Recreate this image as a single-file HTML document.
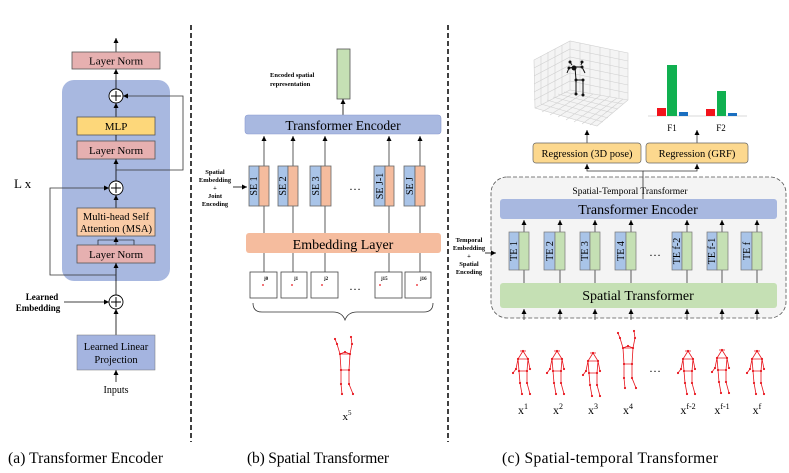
<!DOCTYPE html>
<html><head><meta charset="utf-8"><style>
html,body{margin:0;padding:0;background:#fff;}
svg{display:block;font-family:"Liberation Serif",serif;}
</style></head><body>
<svg width="789" height="473" viewBox="0 0 789 473" xmlns="http://www.w3.org/2000/svg">
<defs>
<marker id="ar" markerWidth="6" markerHeight="6" refX="5" refY="3" orient="auto" markerUnits="userSpaceOnUse"><path d="M0,0.5 L5,3 L0,5.5 z" fill="#000"/></marker>
<g id="sk" stroke="#e8141c" stroke-width="0.8" fill="none">
<path d="M0,-30 L-5,-22 L-7,-12 L-10,-8 M0,-30 L5,-22 L7,-12 M-5,-22 L5,-22 M-5,-22 L-4,-10 L4,-10 L5,-22 M-4,-10 L-3,2 L-1,13 M4,-10 L4,2 L7,13 M-3,-30 L3,-30"/>
<g fill="#e8141c" stroke="none"><circle cx="0" cy="-30" r="1.1"/><circle cx="-5" cy="-22" r="1.1"/><circle cx="5" cy="-22" r="1.1"/><circle cx="-7" cy="-12" r="1.1"/><circle cx="7" cy="-12" r="1.1"/><circle cx="-10" cy="-8" r="1.1"/><circle cx="-4" cy="-10" r="1.1"/><circle cx="4" cy="-10" r="1.1"/><circle cx="-3" cy="2" r="1.1"/><circle cx="4" cy="2" r="1.1"/><circle cx="-1" cy="13" r="1.1"/><circle cx="7" cy="13" r="1.1"/></g>
</g>
<g id="skup" stroke="#e8141c" stroke-width="0.8" fill="none">
<path d="M0,-30 L-5,-28 L-8,-38 L-10,-43 M0,-30 L5,-28 L7,-38 L6,-45 M-5,-28 L5,-28 M-5,-28 L-4,-12 L4,-12 L5,-28 M-4,-12 L-4,2 L-3,12 M4,-12 L4,2 L8,12"/>
<g fill="#e8141c" stroke="none"><circle cx="0" cy="-30" r="1.1"/><circle cx="-5" cy="-28" r="1.1"/><circle cx="5" cy="-28" r="1.1"/><circle cx="-8" cy="-38" r="1.1"/><circle cx="7" cy="-38" r="1.1"/><circle cx="-10" cy="-43" r="1.1"/><circle cx="6" cy="-45" r="1.1"/><circle cx="-4" cy="-12" r="1.1"/><circle cx="4" cy="-12" r="1.1"/><circle cx="-4" cy="2" r="1.1"/><circle cx="4" cy="2" r="1.1"/><circle cx="-3" cy="12" r="1.1"/><circle cx="8" cy="12" r="1.1"/></g>
</g>
</defs>

<!-- Panel (a) -->
<line x1="116" y1="52" x2="116" y2="38" stroke="#000" stroke-width="0.8" marker-end="url(#ar)"/>
<rect x="72" y="52" width="88" height="17" fill="#e6b0b0" stroke="#555" stroke-width="0.8"/>
<text x="116" y="64.5" font-size="11" text-anchor="middle">Layer Norm</text>
<rect x="62" y="80" width="108" height="201" rx="12" fill="#a8b8e0"/>
<line x1="116" y1="89" x2="116" y2="69" stroke="#000" stroke-width="0.8" marker-end="url(#ar)"/>
<line x1="116" y1="117" x2="116" y2="103" stroke="#000" stroke-width="0.8" marker-end="url(#ar)"/>
<rect x="77" y="117" width="78" height="18" fill="#fdd77a" stroke="#555" stroke-width="0.8"/>
<text x="116" y="130" font-size="11" text-anchor="middle">MLP</text>
<line x1="116" y1="135" x2="116" y2="141" stroke="#000" stroke-width="0.8"/>
<rect x="77" y="141" width="78" height="18" fill="#e6b0b0" stroke="#555" stroke-width="0.8"/>
<text x="116" y="154" font-size="11" text-anchor="middle">Layer Norm</text>
<line x1="116" y1="181" x2="116" y2="159" stroke="#000" stroke-width="0.8" marker-end="url(#ar)"/>
<polyline points="116,170 183,170 183,96 123,96" fill="none" stroke="#333" stroke-width="0.8" marker-end="url(#ar)"/>
<line x1="116" y1="208" x2="116" y2="195" stroke="#000" stroke-width="0.8" marker-end="url(#ar)"/>
<rect x="77" y="208" width="78" height="28" fill="#f9cba6" stroke="#555" stroke-width="0.8"/>
<text x="116" y="220" font-size="10.5" text-anchor="middle">Multi-head Self</text>
<text x="116" y="232" font-size="10.5" text-anchor="middle">Attention (MSA)</text>
<polyline points="98,245 98,240 134,240 134,245" fill="none" stroke="#000" stroke-width="0.6"/>
<line x1="116" y1="245" x2="116" y2="237" stroke="#000" stroke-width="0.6" marker-end="url(#ar)"/>
<rect x="77" y="245" width="78" height="18" fill="#e6b0b0" stroke="#555" stroke-width="0.8"/>
<text x="116" y="258" font-size="11" text-anchor="middle">Layer Norm</text>
<line x1="116" y1="295" x2="116" y2="263" stroke="#000" stroke-width="0.8" marker-end="url(#ar)"/>
<polyline points="116,275 50,275 50,188 109,188" fill="none" stroke="#333" stroke-width="0.8" marker-end="url(#ar)"/>
<g fill="#fff" stroke="#000" stroke-width="0.9"><circle cx="116" cy="96" r="7"/><circle cx="116" cy="188" r="7"/><circle cx="116" cy="302" r="7"/></g>
<g stroke="#000" stroke-width="1"><path d="M111,96 H121 M116,91 V101 M111,188 H121 M116,183 V193 M111,302 H121 M116,297 V307"/></g>
<text x="14" y="188" font-size="13">L x</text>
<text x="42" y="300" font-size="9" font-weight="bold" text-anchor="middle">Learned</text>
<text x="38" y="311" font-size="9" font-weight="bold" text-anchor="middle">Embedding</text>
<line x1="64" y1="302" x2="109" y2="302" stroke="#000" stroke-width="0.8" marker-end="url(#ar)"/>
<line x1="116" y1="335" x2="116" y2="309" stroke="#000" stroke-width="0.8" marker-end="url(#ar)"/>
<rect x="77" y="335" width="78" height="35" fill="#a4b4e0" stroke="#777" stroke-width="0.5"/>
<text x="116" y="350" font-size="10.5" text-anchor="middle">Learned Linear</text>
<text x="116" y="363" font-size="10.5" text-anchor="middle">Projection</text>
<line x1="116" y1="382" x2="116" y2="370" stroke="#000" stroke-width="0.8" marker-end="url(#ar)"/>
<text x="116" y="393" font-size="10" text-anchor="middle">Inputs</text>
<text x="8" y="463" font-size="15.5" textLength="155">(a) Transformer Encoder</text>

<line x1="191" y1="25" x2="191" y2="442" stroke="#000" stroke-width="1.5" stroke-dasharray="5,3"/>

<!-- Panel (b) -->
<rect x="337" y="49" width="13" height="50" fill="#c5e0b4" stroke="#555" stroke-width="0.8"/>
<line x1="343" y1="115" x2="343" y2="99" stroke="#000" stroke-width="0.8" marker-end="url(#ar)"/>
<text x="270" y="77" font-size="6.5" font-weight="bold">Encoded spatial</text>
<text x="270" y="86" font-size="6.5" font-weight="bold">representation</text>
<rect x="245" y="115" width="196" height="19" rx="3" fill="#a8b8e0" stroke="#8a9ad0" stroke-width="0.6"/>
<text x="343" y="130" font-size="13.5" text-anchor="middle">Transformer Encoder</text>
<g stroke="#333" stroke-width="0.8">
<line x1="264" y1="166" x2="264" y2="136" marker-end="url(#ar)"/><line x1="293" y1="166" x2="293" y2="136" marker-end="url(#ar)"/><line x1="325" y1="166" x2="325" y2="136" marker-end="url(#ar)"/><line x1="389" y1="166" x2="389" y2="136" marker-end="url(#ar)"/><line x1="420" y1="166" x2="420" y2="136" marker-end="url(#ar)"/>
<line x1="264" y1="206" x2="264" y2="233"/><line x1="293" y1="206" x2="293" y2="233"/><line x1="325" y1="206" x2="325" y2="233"/><line x1="389" y1="206" x2="389" y2="233"/><line x1="420" y1="206" x2="420" y2="233"/>
<line x1="264" y1="253" x2="264" y2="272"/><line x1="293" y1="253" x2="293" y2="272"/><line x1="325" y1="253" x2="325" y2="272"/><line x1="389" y1="253" x2="389" y2="272"/><line x1="420" y1="253" x2="420" y2="272"/>
</g>
<g stroke="#666" stroke-width="0.8">
<rect x="249" y="166" width="10" height="40" fill="#a9c4e8"/><rect x="259" y="166" width="10" height="40" fill="#f5bc9e"/>
<rect x="278" y="166" width="10" height="40" fill="#a9c4e8"/><rect x="288" y="166" width="10" height="40" fill="#f5bc9e"/>
<rect x="310" y="166" width="11" height="40" fill="#a9c4e8"/><rect x="321" y="166" width="10" height="40" fill="#f5bc9e"/>
<rect x="374" y="166" width="11" height="40" fill="#a9c4e8"/><rect x="385" y="166" width="9" height="40" fill="#f5bc9e"/>
<rect x="404" y="166" width="11" height="40" fill="#a9c4e8"/><rect x="415" y="166" width="10" height="40" fill="#f5bc9e"/>
</g>
<g font-size="10">
<text transform="translate(257,186) rotate(-90)" text-anchor="middle">SE 1</text>
<text transform="translate(286,186) rotate(-90)" text-anchor="middle">SE 2</text>
<text transform="translate(319,186) rotate(-90)" text-anchor="middle">SE 3</text>
<text transform="translate(383,186) rotate(-90)" text-anchor="middle">SE J-1</text>
<text transform="translate(413,186) rotate(-90)" text-anchor="middle">SE J</text>
</g>
<text x="355" y="190" font-size="12" text-anchor="middle">…</text>
<g font-size="6.5" font-weight="bold" text-anchor="middle">
<text x="215" y="174">Spatial</text><text x="215" y="182">Embedding</text><text x="215" y="190">+</text><text x="215" y="198">Joint</text><text x="215" y="206">Encoding</text>
</g>
<line x1="233" y1="187" x2="247" y2="187" stroke="#000" stroke-width="0.8" marker-end="url(#ar)"/>
<rect x="246" y="233" width="195" height="20" rx="3" fill="#f5bc9e"/>
<text x="343" y="249" font-size="14" text-anchor="middle">Embedding Layer</text>
<g fill="#fff" stroke="#444" stroke-width="0.8">
<rect x="250" y="272" width="27" height="26"/><rect x="281" y="272" width="26" height="26"/><rect x="311" y="272" width="27" height="26"/><rect x="375" y="272" width="27" height="26"/><rect x="405" y="272" width="26" height="26"/>
</g>
<g fill="#e8141c"><circle cx="263" cy="285" r="0.9"/><circle cx="292" cy="285" r="0.9"/><circle cx="322" cy="285" r="0.9"/><circle cx="380" cy="285" r="0.9"/><circle cx="417" cy="285" r="0.9"/></g>
<g font-size="5" font-weight="bold"><text x="264" y="280">j0</text><text x="294" y="280">j1</text><text x="324" y="280">j2</text><text x="381" y="280">j15</text><text x="420" y="280">j16</text></g>
<text x="355" y="290" font-size="12" text-anchor="middle">…</text>
<path d="M253,303 Q253,312 262,312 L333,312 Q342,312 345,320 Q348,312 357,312 L424,312 Q433,312 433,303" fill="none" stroke="#333" stroke-width="0.8"/>
<use href="#skup" x="345" y="382"/>
<text x="347" y="420" font-size="11" text-anchor="middle">x<tspan font-size="7" dy="-5">5</tspan></text>
<text x="247" y="463" font-size="15.5" textLength="142">(b) Spatial Transformer</text>

<line x1="448" y1="25" x2="448" y2="442" stroke="#000" stroke-width="1.5" stroke-dasharray="5,3"/>

<!-- Panel (c) -->
<g stroke="#d0d0d0" stroke-width="0.6" fill="none">
<path d="M534,60 L570,41 L628,53 L628,100 L597,126 L535,108 Z" fill="#f4f4f4"/>
<path d="M570,41 L570,90 M535,108 L570,90 L628,100"/>
<path d="M534,68 L570,49 L628,61 M534,76 L570,57 L628,69 M534,84 L570,65 L628,77 M534,92 L570,73 L628,85 M534,100 L570,81 L628,93"/>
<path d="M541,56 L541,104 M548,52 L548,101 M555,49 L555,97 M562,45 L562,94 M580,43 L580,92 M590,45 L590,93 M600,47 L600,95 M610,49 L610,97 M619,51 L619,98"/>
<path d="M542,112 L577,91 M550,115 L585,92 M558,117 L593,94 M566,120 L601,95 M574,122 L609,97 M582,124 L617,98 M590,125 L623,99 M541,104 L603,122 M547,100 L608,118 M553,97 L613,113 M558,94 L618,109 M564,92 L623,104"/>
</g>
<g stroke="#111" stroke-width="1" fill="#111">
<path d="M569,68 L575,67 L582,67 M575,67 L576,80 L583,80 L583,95 M576,80 L576,94 M569,68 L567,73 M582,67 L585,73 M572,65 L570,62 M581,65 L582,62" fill="none"/>
<circle cx="574" cy="68" r="2"/><circle cx="569" cy="68" r="1"/><circle cx="582" cy="67" r="1"/><circle cx="576" cy="80" r="1"/><circle cx="583" cy="80" r="1"/><circle cx="576" cy="94" r="1"/><circle cx="583" cy="95" r="1"/><circle cx="570" cy="62" r="1"/><circle cx="582" cy="62" r="1"/>
</g>
<line x1="648" y1="116" x2="747" y2="116" stroke="#ccc" stroke-width="0.8"/>
<rect x="657" y="108" width="9" height="8" fill="#f2131b"/><rect x="667" y="65" width="10" height="51" fill="#10b050"/><rect x="679" y="112" width="9" height="4" fill="#1a6fc0"/>
<rect x="706" y="109" width="9" height="7" fill="#f2131b"/><rect x="717" y="91" width="9" height="25" fill="#10b050"/><rect x="728" y="113" width="9" height="3" fill="#1a6fc0"/>
<text x="672" y="131" font-size="9" text-anchor="middle">F1</text><text x="721" y="131" font-size="9" text-anchor="middle">F2</text>
<line x1="587" y1="143" x2="587" y2="130" stroke="#333" stroke-width="0.8" marker-end="url(#ar)"/>
<line x1="697" y1="143" x2="697" y2="130" stroke="#333" stroke-width="0.8" marker-end="url(#ar)"/>
<rect x="533" y="143" width="108" height="20" rx="3" fill="#fcd88e" stroke="#666" stroke-width="0.7"/>
<text x="587" y="157" font-size="10.5" text-anchor="middle">Regression (3D pose)</text>
<rect x="646" y="143" width="102" height="20" rx="3" fill="#fcd88e" stroke="#666" stroke-width="0.7"/>
<text x="697" y="157" font-size="10.5" text-anchor="middle">Regression (GRF)</text>
<polyline points="643,196 643,171 587,171 587,164" fill="none" stroke="#333" stroke-width="0.8" marker-end="url(#ar)"/>
<polyline points="643,171 697,171 697,164" fill="none" stroke="#333" stroke-width="0.8" marker-end="url(#ar)"/>
<rect x="491" y="177" width="295" height="141" rx="16" fill="#f4f4f4" stroke="#555" stroke-width="0.8" stroke-dasharray="4,2"/>
<line x1="643" y1="177" x2="643" y2="199" stroke="#333" stroke-width="0.8"/>
<text x="630" y="194" font-size="9.5" text-anchor="middle">Spatial-Temporal Transformer</text>
<rect x="500" y="199" width="277" height="20" rx="3" fill="#a8b8e0"/>
<text x="638" y="214" font-size="14" text-anchor="middle">Transformer Encoder</text>
<g stroke="#333" stroke-width="0.8">
<line x1="524" y1="232" x2="524" y2="220" marker-end="url(#ar)"/><line x1="560" y1="232" x2="560" y2="220" marker-end="url(#ar)"/><line x1="595" y1="232" x2="595" y2="220" marker-end="url(#ar)"/><line x1="631" y1="232" x2="631" y2="220" marker-end="url(#ar)"/><line x1="687" y1="232" x2="687" y2="220" marker-end="url(#ar)"/><line x1="722" y1="232" x2="722" y2="220" marker-end="url(#ar)"/><line x1="757" y1="232" x2="757" y2="220" marker-end="url(#ar)"/>
<line x1="524" y1="270" x2="524" y2="283"/><line x1="560" y1="270" x2="560" y2="283"/><line x1="595" y1="270" x2="595" y2="283"/><line x1="631" y1="270" x2="631" y2="283"/><line x1="687" y1="270" x2="687" y2="283"/><line x1="722" y1="270" x2="722" y2="283"/><line x1="757" y1="270" x2="757" y2="283"/>
<line x1="524" y1="320" x2="524" y2="309" marker-end="url(#ar)"/><line x1="560" y1="320" x2="560" y2="309" marker-end="url(#ar)"/><line x1="595" y1="320" x2="595" y2="309" marker-end="url(#ar)"/><line x1="631" y1="320" x2="631" y2="309" marker-end="url(#ar)"/><line x1="687" y1="320" x2="687" y2="309" marker-end="url(#ar)"/><line x1="722" y1="320" x2="722" y2="309" marker-end="url(#ar)"/><line x1="757" y1="320" x2="757" y2="309" marker-end="url(#ar)"/>
</g>
<g stroke="#777" stroke-width="0.7">
<rect x="509" y="232" width="10" height="38" fill="#a9c4e8"/><rect x="519" y="232" width="10" height="38" fill="#c5e0b4"/>
<rect x="544" y="232" width="11" height="38" fill="#a9c4e8"/><rect x="555" y="232" width="10" height="38" fill="#c5e0b4"/>
<rect x="580" y="232" width="10" height="38" fill="#a9c4e8"/><rect x="590" y="232" width="10" height="38" fill="#c5e0b4"/>
<rect x="615" y="232" width="11" height="38" fill="#a9c4e8"/><rect x="626" y="232" width="10" height="38" fill="#c5e0b4"/>
<rect x="672" y="232" width="10" height="38" fill="#a9c4e8"/><rect x="682" y="232" width="10" height="38" fill="#c5e0b4"/>
<rect x="707" y="232" width="10" height="38" fill="#a9c4e8"/><rect x="717" y="232" width="11" height="38" fill="#c5e0b4"/>
<rect x="741" y="232" width="11" height="38" fill="#a9c4e8"/><rect x="752" y="232" width="10" height="38" fill="#c5e0b4"/>
</g>
<g font-size="10">
<text transform="translate(517,251) rotate(-90)" text-anchor="middle">TE 1</text>
<text transform="translate(553,251) rotate(-90)" text-anchor="middle">TE 2</text>
<text transform="translate(588,251) rotate(-90)" text-anchor="middle">TE 3</text>
<text transform="translate(624,251) rotate(-90)" text-anchor="middle">TE 4</text>
<text transform="translate(680,251) rotate(-90)" text-anchor="middle">TE f-2</text>
<text transform="translate(715,251) rotate(-90)" text-anchor="middle">TE f-1</text>
<text transform="translate(750,251) rotate(-90)" text-anchor="middle">TE f</text>
</g>
<text x="655" y="256" font-size="12" text-anchor="middle">…</text>
<rect x="500" y="283" width="277" height="25" rx="3" fill="#c5e0b4"/>
<text x="638" y="300" font-size="14" text-anchor="middle">Spatial Transformer</text>
<g font-size="6.5" font-weight="bold" text-anchor="middle">
<text x="469" y="242">Temporal</text><text x="469" y="250">Embedding</text><text x="469" y="258">+</text><text x="469" y="266">Spatial</text><text x="469" y="274">Encoding</text>
</g>
<line x1="485" y1="253" x2="496" y2="253" stroke="#000" stroke-width="0.8" marker-end="url(#ar)"/>
<use href="#sk" x="523" y="381"/><use href="#sk" x="557" y="381"/><use href="#sk" x="593" y="383"/><use href="#skup" x="628" y="376"/>
<use href="#sk" x="688" y="381"/><use href="#sk" x="722" y="380"/><use href="#sk" x="757" y="381"/>
<text x="655" y="372" font-size="12" text-anchor="middle">…</text>
<g font-size="12" text-anchor="middle">
<text x="523" y="414">x<tspan font-size="8" dy="-5">1</tspan></text>
<text x="558" y="414">x<tspan font-size="8" dy="-5">2</tspan></text>
<text x="593" y="414">x<tspan font-size="8" dy="-5">3</tspan></text>
<text x="628" y="414">x<tspan font-size="8" dy="-5">4</tspan></text>
<text x="688" y="414">x<tspan font-size="8" dy="-5">f-2</tspan></text>
<text x="722" y="414">x<tspan font-size="8" dy="-5">f-1</tspan></text>
<text x="757" y="414">x<tspan font-size="8" dy="-5">f</tspan></text>
</g>
<text x="502" y="463" font-size="15.5" textLength="216">(c) Spatial-temporal Transformer</text>
</svg>
</body></html>
